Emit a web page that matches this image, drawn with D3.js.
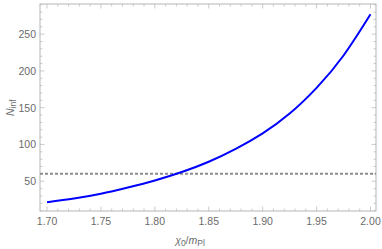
<!DOCTYPE html>
<html>
<head>
<meta charset="utf-8">
<script src="https://cdn.jsdelivr.net/npm/d3@7"></script>
<style>
  body { margin: 0; background: #fff; }
  .tick-label { font-family: "Liberation Sans", Arial, sans-serif; font-size: 10.5px; fill: #6b6b6b; }
  .axis-title { font-family: "Liberation Sans", Arial, sans-serif; font-size: 10.5px; fill: #6b6b6b; }
</style>
</head>
<body>
<div id="chart"></div>
<script>
// curve
var chiValues = [1.700, 1.725, 1.750, 1.775, 1.800, 1.825, 1.850, 1.875, 1.900, 1.925, 1.950, 1.975, 2.000]
var nValues   = [21.5, 26.5, 33, 41.5, 51, 62.5, 76.5, 94, 115, 142, 177, 221, 277]
var nTarget = 60

var xTicks = [1.70, 1.75, 1.80, 1.85, 1.90, 1.95, 2.00]
var yTicks = [50, 100, 150, 200, 250]

var W = 382, H = 249
var margin = { left: 40, right: 6, top: 4, bottom: 38 }
var width = W - margin.left - margin.right,
    height = H - margin.top - margin.bottom

var svg = d3.select("#chart").append("svg")
    .attr("width", W)
    .attr("height", H)
  .append("g")
    .attr("transform", "translate(" + margin.left + "," + margin.top + ")")

var x = d3.scaleLinear().domain([1.6935, 2.0051]).range([0, width])
var y = d3.scaleLinear().domain([9.5, 291]).range([height, 0])

var frameColor = "#b5b5b5"

// minor + major ticks, all four sides, pointing inward
var xMinor = d3.range(1.70, 2.0001, 0.01)
var yMinor = d3.range(10, 291, 10)

function isMajor(v, step){ return Math.abs(v / step - Math.round(v / step)) < 1e-6 }

var ticksG = svg.append("g").attr("stroke", frameColor).attr("stroke-width", 0.7)
xMinor.forEach(function(v){
    var len = isMajor(v, 0.05) ? 4.5 : 2.5
    ticksG.append("line").attr("x1", x(v)).attr("x2", x(v)).attr("y1", height).attr("y2", height - len)
    ticksG.append("line").attr("x1", x(v)).attr("x2", x(v)).attr("y1", 0).attr("y2", len)
})
yMinor.forEach(function(v){
    var len = isMajor(v, 50) ? 4.5 : 2.5
    ticksG.append("line").attr("x1", 0).attr("x2", len).attr("y1", y(v)).attr("y2", y(v))
    ticksG.append("line").attr("x1", width).attr("x2", width - len).attr("y1", y(v)).attr("y2", y(v))
})

svg.append("rect")
    .attr("width", width).attr("height", height)
    .attr("fill", "none").attr("stroke", frameColor).attr("stroke-width", 1)

// tick labels
svg.selectAll(".xl").data(xTicks).enter().append("text")
    .attr("class", "tick-label")
    .attr("x", d => x(d)).attr("y", height + 14)
    .attr("text-anchor", "middle")
    .text(d => d.toFixed(2))

svg.selectAll(".yl").data(yTicks).enter().append("text")
    .attr("class", "tick-label")
    .attr("x", -4).attr("y", d => y(d))
    .attr("text-anchor", "end").attr("dominant-baseline", "central")
    .text(d => d)

// reference line
svg.append("line")
    .attr("x1", 0).attr("x2", width)
    .attr("y1", y(nTarget)).attr("y2", y(nTarget))
    .attr("stroke", "#8c8c8c").attr("stroke-width", 2)
    .attr("stroke-dasharray", "3,2")

// curve
var pts = chiValues.map((c, i) => [c, nValues[i]])
svg.append("path")
    .datum(pts)
    .attr("fill", "none")
    .attr("stroke", "#0000ff")
    .attr("stroke-width", 2)
    .attr("d", d3.line().x(d => x(d[0])).y(d => y(d[1])).curve(d3.curveNatural))

// axis titles
var xt = svg.append("text").attr("class", "axis-title")
    .attr("x", 150).attr("y", height + 33).attr("text-anchor", "middle")
xt.append("tspan").attr("font-style", "italic").text("χ")
xt.append("tspan").attr("font-size", "8.5px").attr("dy", 2).text("0")
xt.append("tspan").attr("dy", -2).text("/")
xt.append("tspan").attr("font-style", "italic").text("m")
xt.append("tspan").attr("font-size", "8.5px").attr("dy", 2).text("Pl")

var yt = svg.append("text").attr("class", "axis-title")
    .attr("transform", "translate(" + (-26) + "," + y(150) + ") rotate(-90)")
    .attr("text-anchor", "middle")
yt.append("tspan").attr("font-style", "italic").text("N")
yt.append("tspan").attr("font-size", "8.5px").attr("dy", 2).text("inf")
</script>
</body>
</html>
